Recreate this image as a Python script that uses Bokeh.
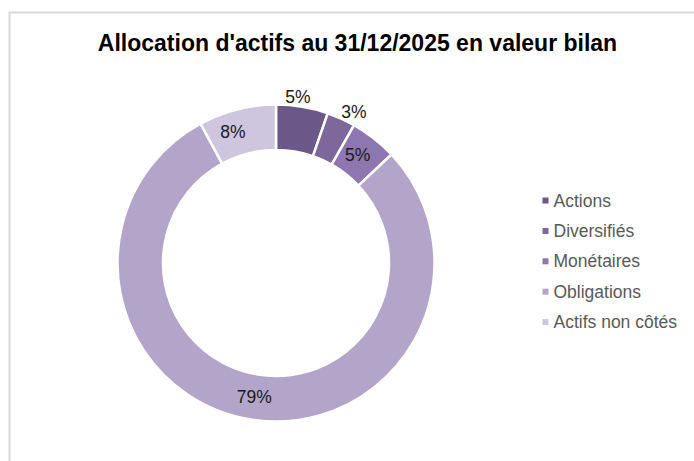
import math
from bokeh.plotting import figure
from bokeh.models import Range1d, ColumnDataSource
from bokeh.core.properties import value
from bokeh.embed import file_html
from bokeh.resources import INLINE

# ---- data ----
title = "Allocation d'actifs au 31/12/2025 en valeur bilan"
categories = ["Actions", "Diversifiés", "Monétaires", "Obligations", "Actifs non côtés"]
values = [5.3, 2.9, 4.8, 79.1, 7.9]
pct_labels = ["5%", "3%", "5%", "79%", "8%"]

# ---- style ----
colors = ["#6C5888", "#7E679B", "#8E76B0", "#B3A5CA", "#CEC6DF"]
label_r = [167, 170, 135, 136, 138]
label_dangle = [-2, 3, -1, 0, -4]

W, H = 694, 461
FONT = "Liberation Sans"

def px(X):
    return X

def py(Y):
    return H - Y

p = figure(width=W, height=H, output_backend="svg", toolbar_location=None,
           x_range=Range1d(0, W), y_range=Range1d(0, H),
           min_border=0, outline_line_color=None)
p.axis.visible = False
p.grid.visible = False
p.background_fill_color = "white"
p.border_fill_color = "white"

# frame (chart area border, partly visible)
p.segment(x0=[px(8), px(9)], y0=[py(12), py(12)], x1=[px(720), px(9)], y1=[py(12), py(480)],
          line_color="#D9D9D9", line_width=2)

# donut
cx, cy = px(275.5), py(262.5)
r_out, r_in = 158.5, 113
total = sum(values)
starts, ends, mids = [], [], []
cum = 0.0
for v in values:
    a0 = math.pi / 2 - cum / total * 2 * math.pi
    cum += v
    a1 = math.pi / 2 - cum / total * 2 * math.pi
    starts.append(a0)
    ends.append(a1)
    mids.append((a0 + a1) / 2)

src = ColumnDataSource(dict(x=[cx] * len(values), y=[cy] * len(values),
                            start=starts, end=ends, color=colors, cat=categories))
p.annular_wedge(x="x", y="y", inner_radius=r_in, outer_radius=r_out,
                start_angle="start", end_angle="end", direction="clock",
                fill_color="color", line_color="white", line_width=2.5, source=src)

# data labels
lx, ly = [], []
for m, r, d in zip(mids, label_r, label_dangle):
    a = m - math.radians(d)
    lx.append(cx + r * math.cos(a))
    ly.append(cy + r * math.sin(a))
p.text(x=lx, y=ly, text=pct_labels, text_align="center", text_baseline="middle",
       text_font=value(FONT), text_font_size="17.5px", text_color="#1A1A1A")

# title
p.text(x=[px(357)], y=[py(42)], text=[title], text_align="center",
       text_baseline="middle", text_font=value(FONT), text_font_size="23px",
       text_font_style="bold", text_color="#000000")

# legend
leg_y = [py(200 + i * 30.4) for i in range(len(categories))]
p.scatter(x=[px(545)] * len(categories), y=leg_y, marker="square", size=6,
          fill_color=colors, line_color=None)
p.text(x=[px(553)] * len(categories), y=leg_y, text=categories, text_align="left",
       text_baseline="middle", text_font=value(FONT), text_font_size="17.5px",
       text_color="#595959")

open("out.html", "w").write(file_html(p, INLINE))
